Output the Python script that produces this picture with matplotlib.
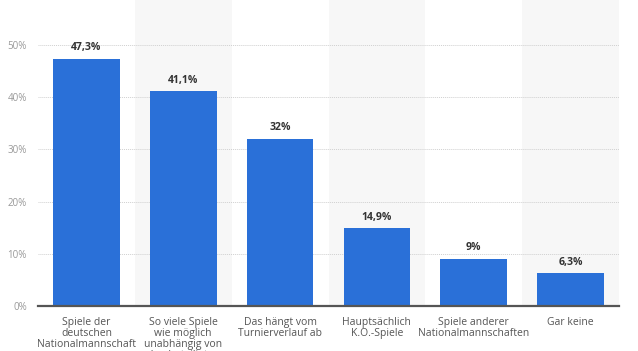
import matplotlib.pyplot as plt

# Data
categories = [
    "Spiele der\ndeutschen\nNationalmannschaft",
    "So viele Spiele\nwie möglich\nunabhängig von\nden beteiligten",
    "Das hängt vom\nTurnierverlauf ab",
    "Hauptsächlich\nK.O.-Spiele",
    "Spiele anderer\nNationalmannschaften",
    "Gar keine",
]
shares = [47.3, 41.1, 32, 14.9, 9, 6.3]
value_labels = ["47,3%", "41,1%", "32%", "14,9%", "9%", "6,3%"]
y_ticks = [0, 10, 20, 30, 40, 50]

plt.rcParams['font.family'] = ['Open Sans', 'DejaVu Sans']

fig = plt.figure(figsize=(6.38, 3.51), dpi=100)
ax = fig.add_axes([38 / 638, 1 - 306 / 351, 581 / 638, 306 / 351])

x = list(range(len(categories)))

# Alternating shaded column bands
for i in x:
    if i % 2 == 1:
        ax.axvspan(i - 0.5, i + 0.5, color='#f7f7f7', zorder=0, lw=0)

ax.bar(x, shares, width=0.69, color='#2a70d8', zorder=3)

for xi, val, lab in zip(x, shares, value_labels):
    ax.annotate(lab, (xi, val), xytext=(0, 4), textcoords='offset points',
                ha='center', va='bottom', fontsize=7.6, fontweight='bold',
                color='#333333', zorder=4)

ax.set_xlim(-0.5, len(categories) - 0.5)
ax.set_ylim(0, 58.6)
ax.set_yticks(y_ticks)
ax.set_yticklabels([f"{t}%" for t in y_ticks])
ax.set_xticks(x)
ax.set_xticklabels(categories, fontsize=7.5, color='#555555', linespacing=1.0)

for t in y_ticks[1:]:
    ax.axhline(t, color='#d0d0d0', lw=0.7, ls=(0, (1, 1)), zorder=1)
ax.axhline(0, color='#555555', lw=1.6, zorder=5, clip_on=False)

ax.tick_params(axis='y', length=0, labelsize=7, labelcolor='#999999', pad=8)
ax.tick_params(axis='x', length=0, pad=8)
for spine in ax.spines.values():
    spine.set_visible(False)

fig.savefig('out.png', dpi=100, facecolor='white')
